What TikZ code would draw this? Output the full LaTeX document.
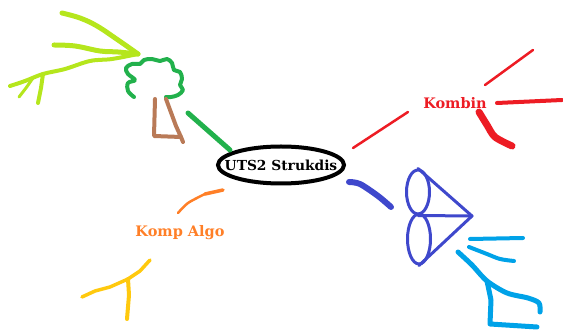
\documentclass[tikz,border=0pt]{standalone}
\usepackage{fontspec}
\newfontfamily\slabfont{DejaVu Serif}
\definecolor{limeC}{HTML}{B5E61D}
\definecolor{greenC}{HTML}{22B14C}
\definecolor{brownC}{HTML}{B97A57}
\definecolor{redC}{HTML}{ED1C24}
\definecolor{orangeC}{HTML}{FF7F27}
\definecolor{yellowC}{HTML}{FFC90E}
\definecolor{indigoC}{HTML}{3F48CC}
\definecolor{turqC}{HTML}{00A2E8}
\usetikzlibrary{shapes.geometric}
\tikzset{
  stroke/.style={line cap=round, line join=round},
  label text/.style={font=\slabfont\bfseries\fontsize{13.8}{13.8}\selectfont, inner sep=0pt},
  sub text/.style={font=\slabfont\bfseries\fontsize{14.5}{14.5}\selectfont, inner sep=0pt},
  topic/.style={draw=black, line width=4pt, ellipse, minimum width=126pt, minimum height=37pt, inner sep=0pt}
}
\begin{document}
\begin{tikzpicture}[x=1pt, y=-1pt]
\useasboundingbox (0,0) rectangle (563,331);

% central topic: ring and title
\node[topic] (main) at (281,165) {};
\node[label text] (title) at (main) {UTS2 Strukdis};

% sub-topics
\node[sub text, text=redC] (kombin) at (455,103) {Kombin};
\node[sub text, text=orangeC] (algo) at (180,233) {Komp Algo};

% ---- green branch with tree ----
\coordinate (g1) at (188,113);
\coordinate (g2) at (230,150);
\draw[stroke, greenC, line width=5pt] (g1) -- (g2);
% crown
\draw[stroke, greenC, line width=4pt] plot[smooth, tension=0.6] coordinates {
  (134,97) (128,91) (128,83) (135,80) (128,74) (126,68) (132,64) (140,64)
  (144,60) (152,59) (160,61) (167,59) (172,63) (174,70) (180,72) (182,79)
  (180,85) (183,90) (178,95) (171,97) (166,97)};
% trunk
\draw[stroke, brownC, line width=4pt] (155,99) -- (154,136) -- (181,137) -- (176,126) -- (166,99);
\draw[stroke, brownC, line width=4pt] (181,137) -- (183,142);
% lime branches
\coordinate (l0) at (138,54);
\draw[stroke, limeC, line width=5pt] plot[smooth, tension=0.6] coordinates {(l0) (118,40) (97,26) (80,18) (62,13)};
\draw[stroke, limeC, line width=5pt] plot[smooth, tension=0.6] coordinates {(l0) (118,52) (100,51) (75,46) (54,45)};
\draw[stroke, limeC, line width=4pt] plot[smooth, tension=0.6] coordinates {(l0) (112,59) (90,61) (65,69) (43,74) (25,81) (10,86)};
\draw[stroke, limeC, line width=4pt] (43,74) -- (41,88) -- (38,103);
\draw[stroke, limeC, line width=3pt] (33,78) -- (26,88) -- (19,97);

% ---- red branch ----
\draw[stroke, redC, line width=2.5pt] (353,148) -- (408,112);
\draw[stroke, redC, line width=2.5pt] (485,85) -- (533,50);
\draw[stroke, redC, line width=4pt] (497,103) -- (562,100);
\draw[stroke, redC, line width=7pt] plot[smooth, tension=0.5] coordinates {(479,112) (487,125) (495,137) (512,146)};

% ---- blue branch with cone ----
\draw[stroke, indigoC, line width=6pt] plot[smooth, tension=0.5] coordinates {(349,182) (360,184) (378,196) (391,207)};
\node[draw=indigoC, line width=3pt, ellipse, minimum width=23pt, minimum height=44pt, inner sep=0pt] (lensA) at (418,192) {};
\node[draw=indigoC, line width=3pt, ellipse, minimum width=23pt, minimum height=50pt, inner sep=0pt] (lensB) at (419,239) {};
\coordinate (tip) at (472,216);
\draw[stroke, indigoC, line width=3pt] (lensA.north) -- (tip) -- (lensB.south);
\draw[stroke, indigoC, line width=3pt] (lensA.south) -- (tip);

% ---- turquoise strokes ----
\draw[stroke, turqC, line width=4pt] (470,239) -- (523,238);
\draw[stroke, turqC, line width=4pt] plot[smooth, tension=0.5] coordinates {(469,247) (487,254) (500,259) (514,261)};
\coordinate (t1) at (487,281);
\draw[stroke, turqC, line width=5pt] plot[smooth, tension=0.5] coordinates {(458,252) (472,265) (t1) (507,293) (528,298) (539,303) (540,312)};
\draw[stroke, turqC, line width=5pt] (t1) -- (491,300) -- (490,324) -- (537,327);

% ---- orange branch ----
\draw[stroke, orangeC, line width=2.5pt] plot[smooth, tension=0.5] coordinates {(178,213) (188,203) (205,194)};
\draw[stroke, orangeC, line width=3.5pt] (205,194) -- (223,190);

% ---- yellow strokes ----
\coordinate (y1) at (128,279);
\draw[stroke, yellowC, line width=3.5pt] (150,260) -- (140,271) -- (y1) -- (110,287) -- (95,291) -- (82,297);
\draw[stroke, yellowC, line width=4pt] (y1) -- (129,295) -- (127,319);
\end{tikzpicture}
\end{document}
